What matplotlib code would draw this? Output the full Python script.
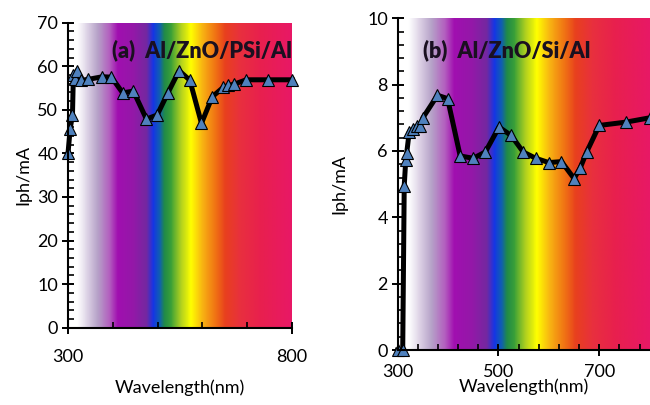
import numpy as np
import matplotlib.pyplot as plt
from matplotlib.colors import LinearSegmentedColormap
from matplotlib.ticker import MultipleLocator, FixedLocator

plt.rcParams['font.family'] = ['Lato', 'DejaVu Sans']

# panel (a) Al/ZnO/PSi/Al
wl_a = [300, 305, 310, 312, 316, 320, 330, 345, 377, 397, 422, 446, 475,
        499, 523, 548, 572, 598, 622, 647, 658, 671, 698, 747, 800]
iph_a = [40.0, 45.7, 48.8, 58.0, 57.0, 59.0, 56.8, 57.0, 57.6, 57.5, 53.9, 54.3, 47.9,
         48.8, 53.9, 59.0, 56.8, 46.9, 53.0, 55.2, 55.6, 55.9, 56.9, 56.9, 56.9]

# panel (b) Al/ZnO/Si/Al
wl_b = [300, 310, 313, 316, 318, 323, 330, 338, 345, 350, 379, 399, 424, 450,
        474, 501, 525, 549, 574, 600, 625, 650, 662, 675, 700, 753, 800]
iph_b = [0.0, 0.0, 4.95, 5.72, 5.95, 6.58, 6.65, 6.75, 6.75, 7.0, 7.68, 7.58, 5.85, 5.78,
         5.97, 6.72, 6.47, 5.97, 5.78, 5.65, 5.68, 5.17, 5.48, 5.97, 6.77, 6.87, 7.0]

# tick labels shown on the wavelength axes
xticks_a = [300, 800]
xticks_b = [300, 500, 700]

# visible spectrum used as background (wavelength, colour)
spec_nodes = [(300, '#ffffff'), (320, '#ffffff'), (345, '#d8cce2'), (365, '#b6a2c8'),
              (392, '#b35fbf'), (410, '#a10fb0'), (445, '#9418a8'), (475, '#7428a0'),
              (490, '#1435e6'), (505, '#1060b0'), (515, '#208a48'), (530, '#3aa038'),
              (553, '#b4d21e'), (575, '#ffff00'), (600, '#f8b412'), (630, '#f07214'),
              (652, '#e8401e'), (685, '#e8303e'), (730, '#e8204e'), (800, '#e81866')]

spec_cmap = LinearSegmentedColormap.from_list(
    'spec', [((w - 300) / 500, c) for w, c in spec_nodes])
spec_img = np.linspace(0, 1, 500)[None, :]

fig = plt.figure(figsize=(6.5, 4.05), dpi=100)
ax_a = fig.add_axes([0.1046, 0.1909, 0.3446, 0.753])
ax_b = fig.add_axes([0.6118, 0.1358, 0.3877, 0.819])


def style_panel(ax, wl, iph, ymax, title, tx, ty):
    ax.imshow(spec_img, cmap=spec_cmap, extent=[300, 800, 0, ymax],
              aspect='auto', zorder=0, interpolation='bilinear')
    ax.plot(wl, iph, color='black', lw=3.6, zorder=2, clip_on=False,
            marker='^', ms=8.5, mfc='#4F81BD', mec='black', mew=0.8)
    ax.set_xlim(300, 800)
    ax.set_ylim(0, ymax)
    for s in ['top', 'right']:
        ax.spines[s].set_visible(False)
    for s in ['left', 'bottom']:
        ax.spines[s].set_linewidth(1.5)
        ax.spines[s].set_zorder(3)
    ax.tick_params(which='major', direction='inout', length=8, width=1.4,
                   labelsize=13, pad=3)
    ax.tick_params(which='minor', direction='in', length=4, width=1.2)
    ax.set_xlabel('Wavelength(nm)', fontsize=13)
    ax.set_ylabel('Iph/mA', fontsize=13)
    ax.text(tx, ty, title, transform=ax.transAxes, fontsize=15.5,
            fontweight='heavy', color='#1a1020', ha='left', va='center', zorder=4)


style_panel(ax_a, wl_a, iph_a, 70, '(a)  Al/ZnO/PSi/Al', 0.195, 0.91)
ax_a.xaxis.set_major_locator(FixedLocator(xticks_a))
ax_a.xaxis.set_minor_locator(MultipleLocator(100))
ax_a.yaxis.set_major_locator(MultipleLocator(10))
ax_a.yaxis.set_minor_locator(MultipleLocator(2))
ax_a.tick_params(axis='x', which='major', pad=11)
ax_a.xaxis.labelpad = 11
ax_a.yaxis.labelpad = 4

style_panel(ax_b, wl_b, iph_b, 10, '(b)  Al/ZnO/Si/Al', 0.10, 0.905)
ax_b.xaxis.set_major_locator(FixedLocator(xticks_b))
ax_b.xaxis.set_minor_locator(FixedLocator(np.arange(300, 801, 40)))
ax_b.yaxis.set_major_locator(MultipleLocator(2))
ax_b.yaxis.set_minor_locator(MultipleLocator(0.4))
ax_b.tick_params(axis='x', which='major', pad=6)
ax_b.xaxis.labelpad = -1
ax_b.yaxis.labelpad = 14

fig.savefig('out.png', dpi=100)
